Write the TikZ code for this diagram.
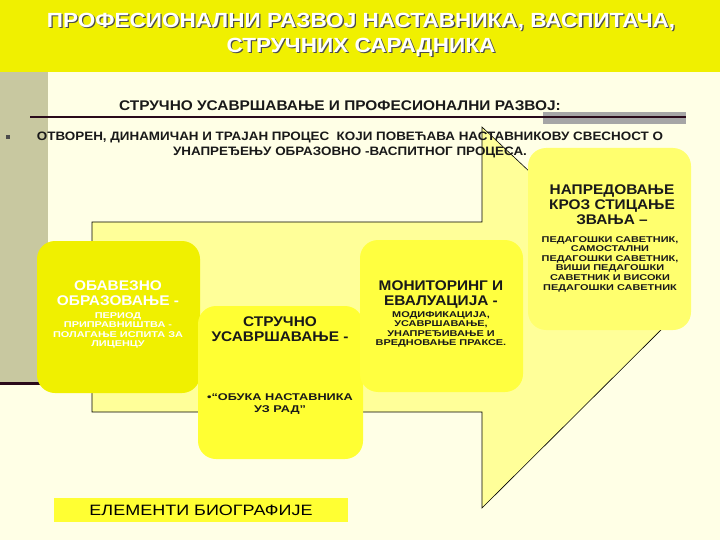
\documentclass[tikz,border=0pt]{standalone}
\usepackage{fontspec}
\setmainfont{Liberation Sans}
\newfontfamily\wid[FakeStretch=1.1]{Liberation Sans}
\newfontfamily\wider[FakeStretch=1.3]{Liberation Sans}
\newfontfamily\widr[FakeStretch=1.2]{Liberation Sans}
\definecolor{bg}{HTML}{FFFFE6}
\definecolor{band}{HTML}{F0F000}
\definecolor{strip}{HTML}{C8C8A0}
\definecolor{arrowf}{HTML}{FFFF99}
\definecolor{dark}{HTML}{2A0A1A}
\definecolor{boxb}{HTML}{FFFF33}
\definecolor{boxc}{HTML}{FFFF40}
\definecolor{boxd}{HTML}{FFFF6E}
\tikzset{
 rbox/.style={rounded corners=18pt, draw=none},
 big/.style={font=\wid\bfseries\fontsize{14}{15}\selectfont, align=center, text=black!90, inner sep=0pt, anchor=north},
 small/.style={font=\wider\bfseries\fontsize{8.4}{9.6}\selectfont, align=center, text=black!90, inner sep=0pt, anchor=north}
}
\begin{document}
\begin{tikzpicture}[x=1pt,y=-1pt]
\fill[bg] (0,0) rectangle (720,540);
\useasboundingbox (0,0) rectangle (720,540);
\fill[band] (0,0) rectangle (720,72);
\fill[strip] (0,72) rectangle (48,384);
\fill[dark] (0,382) rectangle (48,385);
% title
\foreach \dx/\dy/\c in {1.3/1.3/black!70, 0/0/white}{
 \node[font=\wid\bfseries\fontsize{20.5}{25}\selectfont, text=\c, align=center] (t\dx) at (361+\dx,35+\dy) {ПРОФЕСИОНАЛНИ РАЗВОЈ НАСТАВНИКА, ВАСПИТАЧА,\\СТРУЧНИХ САРАДНИКА};
}
\node[font=\wid\bfseries\fontsize{14}{16}\selectfont, text=black!90] (sub) at (340,106) {СТРУЧНО УСАВРШАВАЊЕ И ПРОФЕСИОНАЛНИ РАЗВОЈ:};
\fill[black!35] (543,112) rectangle (686,124);
\draw[dark, line width=1.5pt] (30,117) -- (686,117);
% arrow
\coordinate (tip) at (679,312);
\draw[fill=arrowf, line width=0.6pt] (92,222) -- (482,222) -- (482,127) -- (tip) -- (482,508) -- (482,412) -- (92,412) -- cycle;
\node[font=\wid\bfseries\fontsize{12.2}{15}\selectfont, align=center, text=black!90] (bul) at (350,145) {ОТВОРЕН, ДИНАМИЧАН И ТРАЈАН ПРОЦЕС \ КОЈИ ПОВЕЋАВА НАСТАВНИКОВУ СВЕСНОСТ О\\УНАПРЕЂЕЊУ ОБРАЗОВНО -ВАСПИТНОГ ПРОЦЕСА.};
\fill[black!70] (6,135) rectangle (10,139);
% boxes
\fill[rbox, fill=band] (37,241) rectangle (200,393);
\fill[rbox, fill=boxb] (198,306) rectangle (363,459);
\fill[rbox, fill=boxc] (360,240) rectangle (523,392);
\fill[rbox, fill=boxd] (528,148) rectangle (691,330);
\node[big, text=white] (b1) at (118,281) {ОБАВЕЗНО\\ОБРАЗОВАЊЕ -};
\node[small, text=white] (b1s) at (118,312) {ПЕРИОД\\ПРИПРАВНИШТВА -\\ПОЛАГАЊЕ ИСПИТА ЗА\\ЛИЦЕНЦУ};
\node[big] (b2) at (280,317) {СТРУЧНО\\УСАВРШАВАЊЕ -};
\node[small, font=\wider\bfseries\fontsize{9.8}{12}\selectfont] (b2s) at (280,393) {•“ОБУКА НАСТАВНИКА\\УЗ РАД”};
\node[big] (b3) at (441,281) {МОНИТОРИНГ И\\ЕВАЛУАЦИЈА -};
\node[small] (b3s) at (441,311) {МОДИФИКАЦИЈА,\\УСАВРШАВАЊЕ,\\УНАПРЕЂИВАЊЕ И\\ВРЕДНОВАЊЕ ПРАКСЕ.};
\node[big] (b4) at (612,185) {НАПРЕДОВАЊЕ\\КРОЗ СТИЦАЊЕ\\ЗВАЊА –};
\node[small] (b4s) at (610,236) {ПЕДАГОШКИ САВЕТНИК,\\САМОСТАЛНИ\\ПЕДАГОШКИ САВЕТНИК,\\ВИШИ ПЕДАГОШКИ\\САВЕТНИК И ВИСОКИ\\ПЕДАГОШКИ САВЕТНИК};
\fill[boxb] (54,498) rectangle (348,522);
\node[font=\widr\fontsize{15}{16}\selectfont] (bio) at (201,510) {ЕЛЕМЕНТИ БИОГРАФИЈЕ};
\end{tikzpicture}
\end{document}
